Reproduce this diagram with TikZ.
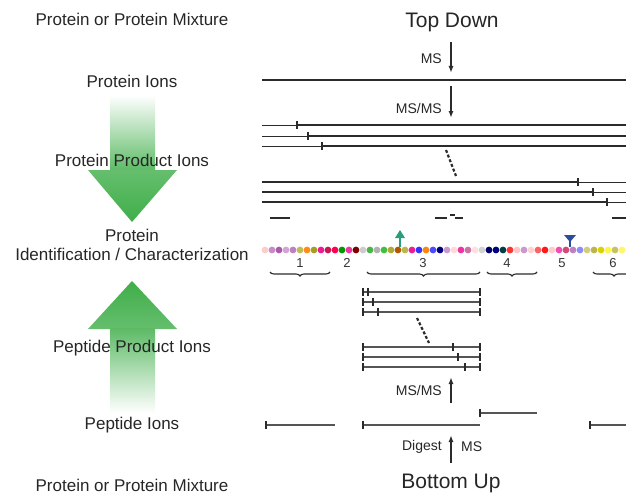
\documentclass[tikz,border=0pt]{standalone}
\usepackage{fontspec}
\setmainfont{Liberation Sans}
\definecolor{flowGreen}{HTML}{3FAE49}
\definecolor{ionGray}{HTML}{2B2B2B}
\definecolor{pepGray}{HTML}{555555}
\definecolor{markTeal}{HTML}{2A9D7C}
\definecolor{markBlue}{HTML}{2C4C9C}
\usepackage{tikz}
\usetikzlibrary{arrows.meta, positioning, calc, decorations.pathreplacing}

\begin{document}
\begin{tikzpicture}[x=1pt, y=-1pt,
  steplabel/.style={font=\fontsize{17}{19}\selectfont, align=center, text=black!85, inner sep=1pt},
  headlabel/.style={font=\fontsize{21}{23}\selectfont, text=black!85, inner sep=1pt},
  mslabel/.style={font=\fontsize{14}{16}\selectfont, text=black!85, inner sep=1pt},
  numlabel/.style={font=\fontsize{13}{15}\selectfont, text=black!80, inner sep=1pt},
  ionline/.style={line width=2.2pt, draw=ionGray},
  pepline/.style={line width=2pt, draw=pepGray},
  fragtick/.style={line width=1.2pt, draw=ionGray},
  msarrow/.style={line width=1.5pt, draw=ionGray, -{Latex[length=7pt,width=5pt]}},
  seqbrace/.style={decorate, decoration={brace, mirror, amplitude=4pt}, line width=1.1pt, draw=ionGray}]

  \useasboundingbox (0,0) rectangle (626,495);

  % green flow arrows
  \shade[top color=white, bottom color=flowGreen!85] (110,95) rectangle (155,171);
  \shade[top color=flowGreen!80, bottom color=flowGreen] (88,170) -- (177,170) -- (132,222) -- cycle;
  \shade[top color=flowGreen, bottom color=flowGreen!80] (132,281) -- (177,329) -- (88,329) -- cycle;
  \shade[top color=flowGreen!85, bottom color=white] (110,328) rectangle (155,413);

  % left column labels
  \node[steplabel] (mixTop) at (132,19) {Protein or Protein Mixture};
  \node[steplabel] (protIons) at (132,81) {Protein Ions};
  \node[steplabel] (protProd) at (132,160) {Protein Product Ions};
  \node[steplabel] (ident) at (132,245) {Protein\\Identification / Characterization};
  \node[steplabel] (pepProd) at (132,348) {Peptide Product Ions};
  \node[steplabel] (pepIons) at (132,425) {Peptide Ions};
  \node[steplabel] (mixBot) at (132,485) {Protein or Protein Mixture};

  % top down
  \node[headlabel] (topDown) at (452,22) {Top Down};
  \coordinate (ms1a) at (451,42);
  \coordinate (ms1b) at (451,73);
  \draw[msarrow] (ms1a) -- (ms1b);
  \node[mslabel, anchor=east] (ms1) at (443,59) {MS};
  \draw[ionline] (262,80) -- (626,80);
  \coordinate (msms1a) at (451,86);
  \coordinate (msms1b) at (451,118);
  \draw[msarrow] (msms1a) -- (msms1b);
  \node[mslabel, anchor=east] (msms1) at (443,108) {MS/MS};

  % protein product ions, N-terminal ladder
  \foreach \y/\c in {125/297, 136/308, 146/322} {
    \draw[line width=1pt, draw=ionGray] (262,\y) -- (\c,\y);
    \draw[ionline] (\c,\y) -- (626,\y);
    \draw[fragtick] (\c,\y-4) -- (\c,\y+4);
  }
  \draw[line width=2.2pt, draw=ionGray, dash pattern=on 3pt off 2pt] (446,150) -- (456,176);
  % protein product ions, C-terminal ladder
  \foreach \y/\c in {182/578, 192/593, 202/607} {
    \draw[ionline] (262,\y) -- (\c,\y);
    \draw[line width=1pt, draw=ionGray] (\c,\y) -- (626,\y);
    \draw[fragtick] (\c,\y-4) -- (\c,\y+4);
  }
  \draw[ionline] (270,218) -- (290,218);
  \draw[ionline] (435,218) -- (447,218);
  \draw[fragtick] (450,215) -- (455,215);
  \draw[ionline] (455,218) -- (463,218);
  \draw[ionline] (612,218) -- (626,218);

  % residue sequence
  \foreach \c [count=\i from 0] in {
    pink!80, violet!45, violet!65, violet!35, violet!50, olive!55, orange!90,
    olive!80, magenta!90, purple!90, red!70!magenta, green!60!black, magenta!80,
    red!50!black, gray!40, green!40!gray, gray!60, green!50!gray, olive!70,
    orange!70!black, olive!60, magenta!90, blue!80, orange!95, blue!70,
    blue!50!black, violet!40, pink!60, magenta!80, violet!40!pink, pink!50,
    gray!35, blue!40!black, blue!50!black, teal!50!black, red!80, pink!90,
    violet!40, pink!70, red!50!pink, red!90, pink!80, magenta!70, purple!70,
    violet!50, blue!45, olive!40, olive!60, yellow!70!olive, yellow!70,
    olive!50, yellow!60} {
    \fill[\c] ({265+\i*7},250) circle (3.4);
  }
  \fill[markTeal] (400,230) -- (405,238) -- (395,238) -- cycle;
  \draw[markTeal, line width=1.6pt] (400,237) -- (400,247);
  \fill[markBlue] (564,235) -- (576,235) -- (570,242) -- cycle;
  \draw[markBlue, line width=1.6pt] (570,240) -- (570,247);

  % digest fragments
  \foreach \n/\x in {1/300, 2/347, 3/423, 4/507, 5/562, 6/613}
    \node[numlabel] (num\n) at (\x,263) {\n};
  \draw[seqbrace] (270,272) -- (330,272);
  \draw[seqbrace] (367,272) -- (480,272);
  \draw[seqbrace] (487,272) -- (537,272);
  \draw[seqbrace] (593,272) -- (635,272);

  % peptide product ions
  \foreach \y/\c in {292/368, 302/373, 312/378} {
    \draw[pepline] (363,\y) -- (480,\y);
    \draw[fragtick] (363,\y-4) -- (363,\y+4);
    \draw[fragtick] (480,\y-4) -- (480,\y+4);
    \draw[fragtick] (\c,\y-4) -- (\c,\y+4);
  }
  \draw[line width=2.2pt, draw=ionGray, dash pattern=on 3pt off 2pt] (417,318) -- (429,343);
  \foreach \y/\c in {347/453, 357/458, 367/465} {
    \draw[pepline] (363,\y) -- (480,\y);
    \draw[fragtick] (363,\y-4) -- (363,\y+4);
    \draw[fragtick] (480,\y-4) -- (480,\y+4);
    \draw[fragtick] (\c,\y-4) -- (\c,\y+4);
  }

  % bottom up
  \coordinate (msms2a) at (451,403);
  \coordinate (msms2b) at (451,377);
  \draw[msarrow] (msms2a) -- (msms2b);
  \node[mslabel, anchor=east] (msms2) at (443,390) {MS/MS};
  \foreach \xa/\xb/\y in {266/335/425, 363/480/425, 480/537/413, 590/626/425} {
    \draw[pepline] (\xa,\y) -- (\xb,\y);
    \draw[fragtick] (\xa,\y-4) -- (\xa,\y+4);
  }
  \coordinate (digA) at (451,463);
  \coordinate (digB) at (451,435);
  \draw[msarrow] (digA) -- (digB);
  \node[mslabel, anchor=east] (digest) at (443,447) {Digest};
  \node[mslabel, anchor=west] (ms2) at (460,447) {MS};
  \node[headlabel] (bottomUp) at (451,483) {Bottom Up};
\end{tikzpicture}
\end{document}
